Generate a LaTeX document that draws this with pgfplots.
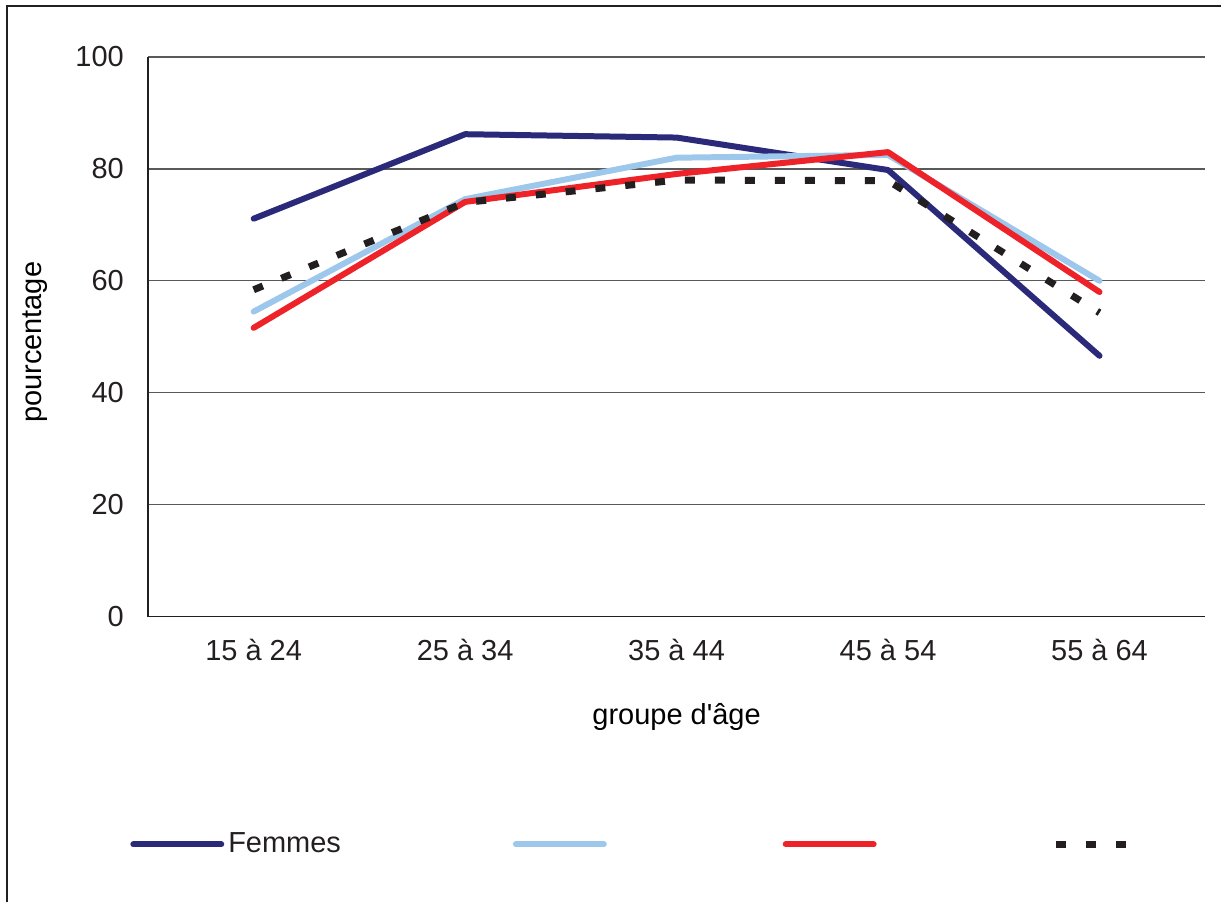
\documentclass[border=0pt]{standalone}
\usepackage{fontspec}
\setmainfont{Liberation Sans}
\usepackage{pgfplots}
\pgfplotsset{compat=1.18}
\definecolor{navy}{RGB}{43,42,122}
\definecolor{lblue}{RGB}{157,200,235}
\definecolor{cred}{RGB}{238,34,41}
\definecolor{ink}{RGB}{35,31,32}
\newcommand\ff{\fontsize{14.5}{17}\selectfont}
\begin{document}
\begin{tikzpicture}
\ff
\begin{axis}[
    scale only axis,
    width=529pt, height=280pt,
    xmin=-0.5, xmax=4.5,
    ymin=0, ymax=100,
    xtick={0,1,2,3,4},
    xticklabels={15 à 24, 25 à 34, 35 à 44, 45 à 54, 55 à 64},
    ytick={0,20,40,60,80,100},
    major tick length=0pt,
    axis x line*=bottom, axis y line*=left,
    axis line style={ink, line width=0.75pt, -},
    ymajorgrids,
    grid style={black!65, line width=0.6pt},
    /pgf/number format/assume math mode=true,
    tick label style={font=\ff, text=ink},
    yticklabel style={xshift=-7pt},
    xticklabel style={yshift=-6pt},
    label style={font=\ff, text=ink},
    xlabel={groupe d\textquotesingle âge},
    ylabel={pourcentage},
    every axis x label/.style={at={(axis description cs:0.5,-0.179)}, anchor=center},
    every axis y label/.style={at={(axis description cs:-0.107,0.49)}, rotate=90, anchor=center},
    legend columns=-1,
    legend style={at={(axis description cs:-0.017,-0.407)}, anchor=west, draw=none, fill=none,
        inner sep=0pt, font=\ff, text=ink,
        /tikz/every even column/.append style={column sep=84pt}},
    legend image code/.code={\draw[#1] (0pt,0pt) -- (44pt,0pt);},
]
\addplot[navy, line width=3pt, line cap=round, line join=round] coordinates {(0,71.1) (1,86.2) (2,85.6) (3,79.8) (4,46.6)};
\addlegendentry{Femmes}
\addplot[lblue, line width=3pt, line cap=round, line join=round] coordinates {(0,54.5) (1,74.6) (2,82.0) (3,82.5) (4,60.0)};
\addlegendentry{\strut}
\addplot[cred, line width=3pt, line cap=round, line join=round] coordinates {(0,51.6) (1,74.1) (2,79.1) (3,83.0) (4,58.0)};
\addlegendentry{\strut}
\addplot[ink, line width=3.5pt, dash pattern=on 5pt off 10pt] coordinates {(0,58.4) (1,74.0) (2,78.0) (3,77.9) (4,54.3)};
\addlegendentry{\strut}
\end{axis}
\draw[ink, line width=0.75pt] (-70.5pt,-143pt) -- (-70.5pt,305.5pt) -- (537pt,305.5pt);
\useasboundingbox (-74pt,-143pt) rectangle (537pt,308.5pt);
\end{tikzpicture}
\end{document}
